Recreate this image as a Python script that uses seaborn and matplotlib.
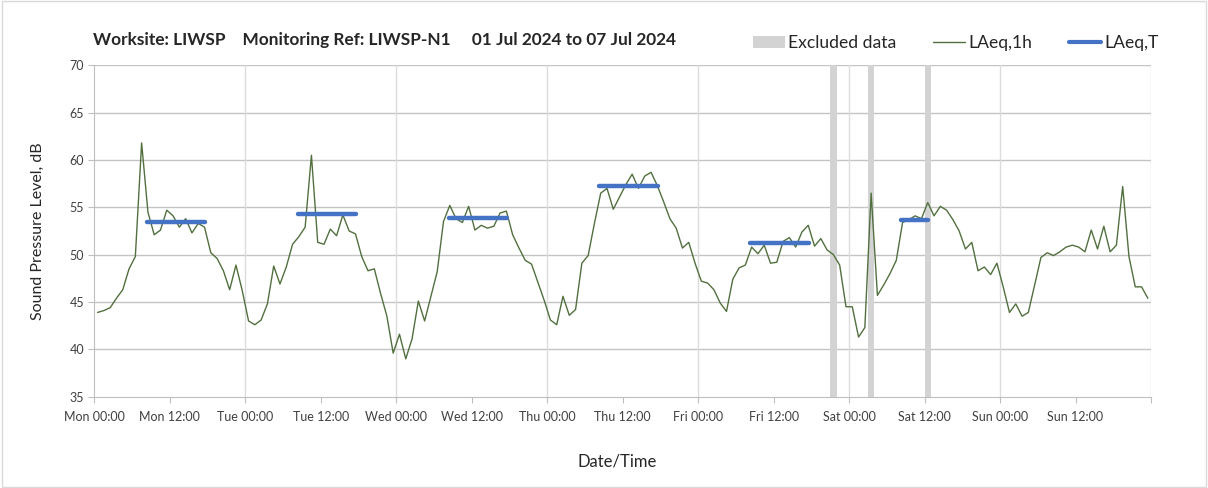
import numpy as np
import pandas as pd
import matplotlib.pyplot as plt
import seaborn as sns
from matplotlib.patches import Patch, Rectangle
from matplotlib.lines import Line2D

# hourly LAeq,1h values, Mon 00:00 -> Sun 23:00 (plotted at mid-hour)
mon = [43.9, 44.1, 44.4, 45.4, 46.3, 48.5, 49.8, 61.8, 54.5, 52.1, 52.6, 54.7,
       54.1, 52.9, 53.8, 52.3, 53.3, 52.9, 50.2, 49.6, 48.3, 46.3, 48.9, 46.2]
tue = [43.0, 42.6, 43.1, 44.8, 48.8, 46.9, 48.7, 51.1, 51.9, 52.9, 60.5, 51.3,
       51.1, 52.7, 52.0, 54.2, 52.5, 52.2, 49.8, 48.3, 48.5, 45.9, 43.5, 39.6]
wed = [41.6, 39.0, 41.1, 45.1, 43.0, 45.6, 48.2, 53.5, 55.2, 53.8, 53.4, 55.1,
       52.6, 53.1, 52.8, 53.0, 54.4, 54.6, 52.1, 50.7, 49.4, 49.0, 47.1, 45.2]
thu = [43.1, 42.6, 45.6, 43.6, 44.2, 49.1, 49.9, 53.3, 56.5, 57.0, 54.8, 56.1,
       57.4, 58.5, 57.0, 58.3, 58.7, 57.3, 55.6, 53.8, 52.8, 50.7, 51.3, 49.1]
fri = [47.2, 47.0, 46.3, 44.9, 44.0, 47.4, 48.6, 48.9, 50.8, 50.1, 51.0, 49.1,
       49.2, 51.4, 51.8, 50.8, 52.4, 53.1, 50.9, 51.7, 50.5, 50.0, 48.9, 44.5]
sat = [44.5, 41.3, 42.3, 56.5, 45.7, 46.8, 48.0, 49.4, 53.4, 53.7, 54.1, 53.8,
       55.5, 54.1, 55.1, 54.7, 53.7, 52.5, 50.6, 51.3, 48.3, 48.7, 47.9, 49.1]
sun = [46.6, 43.9, 44.8, 43.5, 43.9, 46.8, 49.7, 50.2, 49.9, 50.3, 50.8, 51.0,
       50.8, 50.3, 52.6, 50.6, 53.0, 50.3, 51.0, 57.2, 49.8, 46.6, 46.6, 45.4]
laeq_1h = mon + tue + wed + thu + fri + sat + sun

# LAeq,T per day (hours from day start)
laeq_t = [53.5, 54.3, 53.9, 57.3, 51.2, 53.7]
t_start = [8.3, 8.3, 8.3, 8.3, 8.3, 8.3]
t_end = [17.6, 17.6, 17.6, 17.6, 17.6, 12.6]

# excluded hours (hours from Mon 00:00)
excluded = [117, 123, 132]

tick_labels = ['Mon 00:00', 'Mon 12:00', 'Tue 00:00', 'Tue 12:00', 'Wed 00:00',
               'Wed 12:00', 'Thu 00:00', 'Thu 12:00', 'Fri 00:00', 'Fri 12:00',
               'Sat 00:00', 'Sat 12:00', 'Sun 00:00', 'Sun 12:00']

hourly = pd.DataFrame({'hour': np.arange(len(laeq_1h)) + 0.5, 'LAeq,1h': laeq_1h})
rows = []
for d, v in enumerate(laeq_t):
    rows.append({'day': d, 'hour': d * 24 + t_start[d], 'LAeq,T': v})
    rows.append({'day': d, 'hour': d * 24 + t_end[d], 'LAeq,T': v})
periods = pd.DataFrame(rows)

sns.set_style('white')
plt.rcParams['font.family'] = ['Lato', 'DejaVu Sans']

green = '#52703f'
blue = '#4472c4'

fig = plt.figure(figsize=(12.08, 4.88), dpi=100)
ax = fig.add_axes([0.0782, 0.1871, 0.8746, 0.6791])

for h in excluded:
    ax.axvspan(h, h + 1, color='#d3d3d3', lw=0, zorder=1)

sns.lineplot(data=hourly, x='hour', y='LAeq,1h', color=green, lw=1.0, ax=ax, zorder=3)
sns.lineplot(data=periods, x='hour', y='LAeq,T', units='day', estimator=None,
             color=blue, lw=3.2, ax=ax, zorder=4)

ax.set_xlim(0, 168)
ax.set_ylim(35, 70)
ax.set_yticks(range(35, 71, 5))
ax.set_xticks(range(0, 169, 12))
ax.set_xticklabels(tick_labels + [''])
ax.tick_params(axis='x', length=4, color='#bfbfbf', labelsize=9, labelcolor='#404040', pad=6, direction='out', bottom=True)
ax.tick_params(axis='y', length=4, color='#bfbfbf', labelsize=9, labelcolor='#404040', left=True)

# grid: horizontal every 5 dB, vertical at day boundaries
for y in range(40, 71, 5):
    ax.axhline(y, color='#c4c4c4', lw=1, zorder=0)
for x in range(24, 169, 24):
    ax.axvline(x, color='#dcdcdc', lw=1, zorder=0)

for s in ['top', 'right']:
    ax.spines[s].set_visible(False)
ax.spines['left'].set_color('#bfbfbf')
ax.spines['bottom'].set_color('#bfbfbf')

ax.set_xlabel('Date/Time', fontsize=12, color='#262626')
ax.set_ylabel('Sound Pressure Level, dB', fontsize=11.5, color='#262626')
ax.xaxis.set_label_coords(0.495, -0.17)
ax.yaxis.set_label_coords(-0.047, 0.5)

fig.text(0.077, 0.918, 'Worksite: LIWSP    Monitoring Ref: LIWSP-N1     01 Jul 2024 to 07 Jul 2024',
         fontsize=12.4, fontweight='bold', va='center', ha='left')

handles = [Patch(facecolor='#d3d3d3', edgecolor='none'),
           Line2D([], [], color=green, lw=1.0),
           Line2D([], [], color=blue, lw=3)]
fig.legend(handles, ['Excluded data', 'LAeq,1h', 'LAeq,T'], ncol=3, frameon=False,
           loc='center right', bbox_to_anchor=(0.972, 0.912), fontsize=12.6,
           handlelength=1.8, handletextpad=0.2, columnspacing=2.1)

fig.add_artist(Rectangle((0.002, 0.002), 0.996, 0.996, transform=fig.transFigure,
                         fill=False, edgecolor='#d9d9d9', lw=1))

fig.savefig('out.png', dpi=100)
